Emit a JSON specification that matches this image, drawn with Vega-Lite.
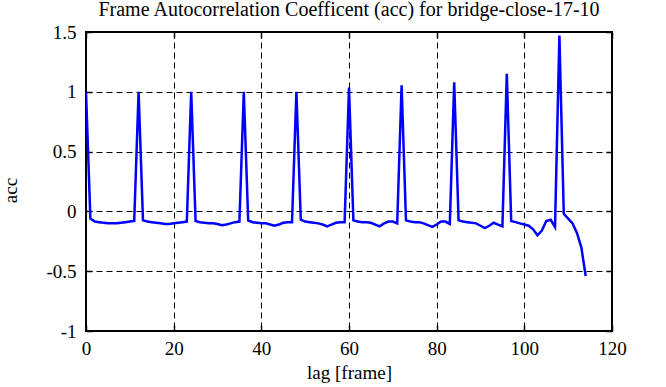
{
  "$schema": "https://vega.github.io/schema/vega-lite/v6.json",
  "autosize": "none",
  "width": 526,
  "height": 299,
  "padding": {"left": 86, "top": 32, "right": 54, "bottom": 56},
  "background": "white",
  "title": {
    "text": "Frame Autocorrelation Coefficent (acc) for bridge-close-17-10",
    "font": "Liberation Serif",
    "fontSize": 20,
    "fontWeight": "normal",
    "color": "black",
    "offset": 8,
    "dy": 5
  },
  "config": {
    "view": {"stroke": "black", "strokeWidth": 2},
    "axis": {
      "domain": false,
      "gridColor": "black",
      "gridDash": [6, 4],
      "gridWidth": 1,
      "gridOpacity": 1,
      "tickColor": "black",
      "tickSize": -6,
      "tickWidth": 1.5,
      "labelFlush": false,
      "labelFont": "Liberation Serif",
      "labelFontSize": 19,
      "labelColor": "black",
      "titleFont": "Liberation Serif",
      "titleFontSize": 19,
      "titleFontWeight": "normal",
      "titleColor": "black"
    }
  },
  "data": {
    "values": [
      {"lag": 0, "acc": 1.0}, {"lag": 1, "acc": -0.06}, {"lag": 2, "acc": -0.085}, {"lag": 3, "acc": -0.09},
      {"lag": 4, "acc": -0.095}, {"lag": 5, "acc": -0.1}, {"lag": 6, "acc": -0.1}, {"lag": 7, "acc": -0.1},
      {"lag": 8, "acc": -0.095}, {"lag": 9, "acc": -0.09}, {"lag": 10, "acc": -0.085}, {"lag": 11, "acc": -0.08},
      {"lag": 12, "acc": 1.0}, {"lag": 13, "acc": -0.075}, {"lag": 14, "acc": -0.085}, {"lag": 15, "acc": -0.09},
      {"lag": 16, "acc": -0.095}, {"lag": 17, "acc": -0.1}, {"lag": 18, "acc": -0.105}, {"lag": 19, "acc": -0.105},
      {"lag": 20, "acc": -0.1}, {"lag": 21, "acc": -0.095}, {"lag": 22, "acc": -0.09}, {"lag": 23, "acc": -0.085},
      {"lag": 24, "acc": 1.0}, {"lag": 25, "acc": -0.08}, {"lag": 26, "acc": -0.09}, {"lag": 27, "acc": -0.095},
      {"lag": 28, "acc": -0.1}, {"lag": 29, "acc": -0.1}, {"lag": 30, "acc": -0.105}, {"lag": 31, "acc": -0.115},
      {"lag": 32, "acc": -0.11}, {"lag": 33, "acc": -0.1}, {"lag": 34, "acc": -0.09}, {"lag": 35, "acc": -0.085},
      {"lag": 36, "acc": 1.0}, {"lag": 37, "acc": -0.075}, {"lag": 38, "acc": -0.09}, {"lag": 39, "acc": -0.095},
      {"lag": 40, "acc": -0.1}, {"lag": 41, "acc": -0.1}, {"lag": 42, "acc": -0.11}, {"lag": 43, "acc": -0.12},
      {"lag": 44, "acc": -0.11}, {"lag": 45, "acc": -0.095}, {"lag": 46, "acc": -0.09}, {"lag": 47, "acc": -0.09},
      {"lag": 48, "acc": 1.0}, {"lag": 49, "acc": -0.07}, {"lag": 50, "acc": -0.085}, {"lag": 51, "acc": -0.09},
      {"lag": 52, "acc": -0.095}, {"lag": 53, "acc": -0.1}, {"lag": 54, "acc": -0.11}, {"lag": 55, "acc": -0.125},
      {"lag": 56, "acc": -0.11}, {"lag": 57, "acc": -0.095}, {"lag": 58, "acc": -0.09}, {"lag": 59, "acc": -0.09},
      {"lag": 60, "acc": 1.035}, {"lag": 61, "acc": -0.075}, {"lag": 62, "acc": -0.085}, {"lag": 63, "acc": -0.09},
      {"lag": 64, "acc": -0.09}, {"lag": 65, "acc": -0.095}, {"lag": 66, "acc": -0.11}, {"lag": 67, "acc": -0.125},
      {"lag": 68, "acc": -0.1}, {"lag": 69, "acc": -0.085}, {"lag": 70, "acc": -0.085}, {"lag": 71, "acc": -0.1},
      {"lag": 72, "acc": 1.055}, {"lag": 73, "acc": -0.075}, {"lag": 74, "acc": -0.085}, {"lag": 75, "acc": -0.09},
      {"lag": 76, "acc": -0.09}, {"lag": 77, "acc": -0.1}, {"lag": 78, "acc": -0.115}, {"lag": 79, "acc": -0.13},
      {"lag": 80, "acc": -0.11}, {"lag": 81, "acc": -0.085}, {"lag": 82, "acc": -0.085}, {"lag": 83, "acc": -0.105},
      {"lag": 84, "acc": 1.08}, {"lag": 85, "acc": -0.075}, {"lag": 86, "acc": -0.085}, {"lag": 87, "acc": -0.09},
      {"lag": 88, "acc": -0.095}, {"lag": 89, "acc": -0.1}, {"lag": 90, "acc": -0.12}, {"lag": 91, "acc": -0.14},
      {"lag": 92, "acc": -0.12}, {"lag": 93, "acc": -0.095}, {"lag": 94, "acc": -0.11}, {"lag": 95, "acc": -0.125},
      {"lag": 96, "acc": 1.15}, {"lag": 97, "acc": -0.08}, {"lag": 98, "acc": -0.09}, {"lag": 99, "acc": -0.1},
      {"lag": 100, "acc": -0.11}, {"lag": 101, "acc": -0.12}, {"lag": 102, "acc": -0.15}, {"lag": 103, "acc": -0.2},
      {"lag": 104, "acc": -0.16}, {"lag": 105, "acc": -0.08}, {"lag": 106, "acc": -0.07}, {"lag": 107, "acc": -0.13},
      {"lag": 108, "acc": 1.47}, {"lag": 109, "acc": -0.02}, {"lag": 110, "acc": -0.06}, {"lag": 111, "acc": -0.1},
      {"lag": 112, "acc": -0.18}, {"lag": 113, "acc": -0.3}, {"lag": 114, "acc": -0.54}
    ]
  },
  "layer": [
    {
      "mark": {"type": "line", "color": "#0000ff", "strokeWidth": 2.5, "clip": true},
      "encoding": {
        "x": {
          "field": "lag", "type": "quantitative",
          "scale": {"domain": [0, 120], "nice": false, "zero": false},
          "axis": {
            "orient": "bottom", "values": [0, 20, 40, 60, 80, 100, 120],
            "title": "lag [frame]", "grid": true, "labelPadding": 14, "titlePadding": 5,
            "labelExpr": "'' + datum.value"
          }
        },
        "y": {
          "field": "acc", "type": "quantitative",
          "scale": {"domain": [-1, 1.5], "nice": false, "zero": false},
          "axis": {
            "orient": "left", "values": [-1, -0.5, 0, 0.5, 1, 1.5],
            "title": "acc", "grid": true, "labelPadding": 16, "titlePadding": 25, "titleY": 158,
            "labelExpr": "'' + datum.value"
          }
        }
      }
    },
    {
      "mark": {"type": "line", "opacity": 0},
      "encoding": {
        "x": {
          "field": "lag", "type": "quantitative",
          "axis": {"orient": "top", "values": [0, 20, 40, 60, 80, 100, 120], "labels": false, "title": null, "grid": false}
        },
        "y": {
          "field": "acc", "type": "quantitative",
          "axis": {"orient": "right", "values": [-1, -0.5, 0, 0.5, 1, 1.5], "labels": false, "title": null, "grid": false}
        }
      }
    }
  ],
  "resolve": {"axis": {"x": "independent", "y": "independent"}}
}
